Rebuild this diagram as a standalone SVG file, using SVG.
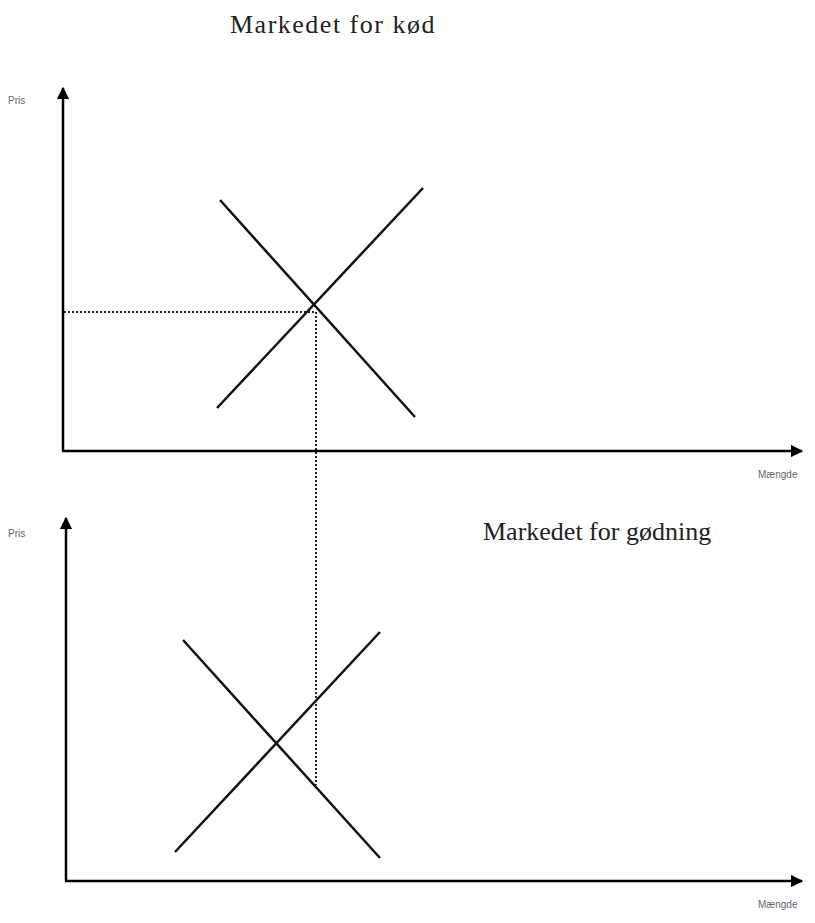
<svg xmlns="http://www.w3.org/2000/svg" width="815" height="923" viewBox="0 0 815 923">
<style>
.ax{stroke:#000;stroke-width:2.5;fill:none}
.ln{stroke:#111;stroke-width:2.5;fill:none}
.dot{stroke:#222;stroke-width:2;stroke-dasharray:2 2;fill:none}
.title{font-family:"Liberation Serif",serif;font-size:26px;fill:#222}
.lab{font-family:"Liberation Sans",sans-serif;font-size:10px;fill:#667}
</style>
<defs>
<marker id="ah" viewBox="0 0 10 10" refX="9" refY="5" markerWidth="5" markerHeight="5" orient="auto" markerUnits="strokeWidth">
<path d="M0,0 L10,5 L0,10 z" fill="#000"/>
</marker>
</defs>
<rect width="815" height="923" fill="#fff"/>
<g id="connectors">
<line class="ax" x1="63" y1="451" x2="63" y2="88" marker-end="url(#ah)"/>
<line class="ax" x1="62" y1="451" x2="802" y2="451" marker-end="url(#ah)"/>
<line class="ax" x1="66" y1="881" x2="66" y2="518" marker-end="url(#ah)"/>
<line class="ax" x1="65" y1="881" x2="802" y2="881" marker-end="url(#ah)"/>
<line class="ln" x1="220" y1="200" x2="415" y2="417"/>
<line class="ln" x1="217" y1="408" x2="423" y2="188"/>
<line class="ln" x1="183" y1="640" x2="380" y2="858"/>
<line class="ln" x1="175" y1="852" x2="380" y2="632"/>
<line class="dot" x1="64" y1="312" x2="316" y2="312"/>
<line class="dot" x1="316" y1="312" x2="316" y2="785"/>
</g>
<g id="title-top"><text class="title" x="230" y="33" letter-spacing="1.5">Markedet for kød</text></g>
<g id="title-bottom"><text class="title" x="483" y="540">Markedet for gødning</text></g>
<g id="labels">
<text class="lab" x="8" y="104">Pris</text>
<text class="lab" x="758" y="478">Mængde</text>
<text class="lab" x="8" y="537">Pris</text>
<text class="lab" x="758" y="908">Mængde</text>
</g>
</svg>
